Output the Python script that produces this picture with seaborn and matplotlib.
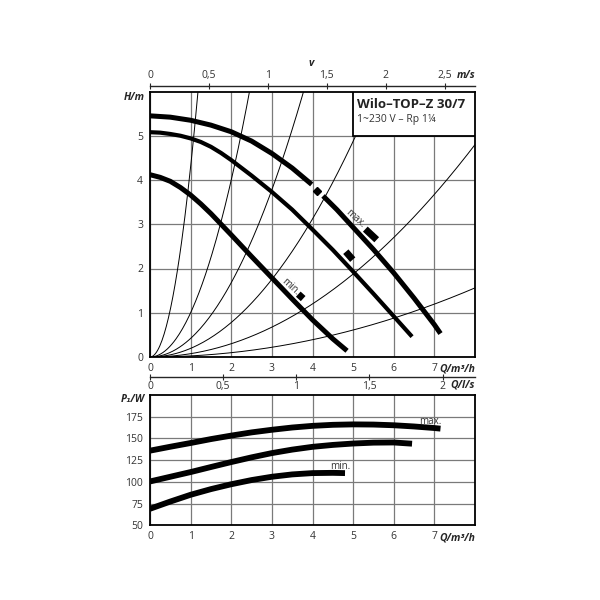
import numpy as np
import matplotlib
matplotlib.use('Agg')
import matplotlib.pyplot as plt
import seaborn as sns
from matplotlib.patches import Rectangle

# ---- values ----
q_ticks = [0, 1, 2, 3, 4, 5, 6, 7]
h_ticks = [0, 1, 2, 3, 4, 5]
p_ticks = [50, 75, 100, 125, 150, 175]
v_ticks = [0, 0.5, 1, 1.5, 2, 2.5]
v_labels = ['0', '0,5', '1', '1,5', '2', '2,5']
ls_ticks = [0, 0.5, 1, 1.5, 2]
ls_labels = ['0', '0,5', '1', '1,5', '2']

# pump curves H(Q), Q in m3/h, H in m
q_max_a = [0, 0.5, 1, 1.5, 2, 2.5, 3, 3.5, 3.98]
h_max_a = [5.45, 5.42, 5.35, 5.24, 5.09, 4.88, 4.6, 4.27, 3.9]
q_max_b = [4.26, 4.6, 5.0, 5.5, 6.0, 6.5, 7.0, 7.15]
h_max_b = [3.64, 3.33, 2.93, 2.43, 1.9, 1.33, 0.73, 0.53]
q_mid = [0, 0.25, 0.5, 0.75, 1, 1.25, 1.5, 1.75, 2, 2.5, 3, 3.5, 4, 4.5, 5, 5.5, 6, 6.45]
h_mid = [5.08, 5.07, 5.04, 5.0, 4.94, 4.86, 4.75, 4.61, 4.45, 4.1, 3.73, 3.33,
         2.88, 2.42, 1.93, 1.43, 0.92, 0.46]
q_min = [0, 0.25, 0.5, 0.75, 1, 1.25, 1.5, 1.75, 2, 2.5, 3, 3.5, 4, 4.5, 4.85]
h_min = [4.12, 4.06, 3.97, 3.83, 3.66, 3.46, 3.24, 3.0, 2.76, 2.27, 1.79, 1.31,
         0.84, 0.41, 0.14]

# system curves H = k * Q^2
sys_k = [4.3, 1.0, 0.42, 0.195, 0.075, 0.0244]

# label markers on the H curves
mark_max_q, mark_max_h = [5.3, 5.58], [2.89, 2.65]
mark_mid_q, mark_mid_h = [4.82, 4.99], [2.38, 2.2]
mark_min_q, mark_min_h = [3.65, 3.77], [1.42, 1.32]
dot_q, dot_h = [4.12], [3.75]

# power curves P1(Q), W
pq_max = [0, 0.5, 1, 1.5, 2, 2.5, 3, 3.5, 4, 4.5, 5, 5.5, 6, 6.5, 7, 7.15]
p_max = [136, 140.5, 144.8, 149.3, 153.3, 157, 160, 162.6, 164.5, 165.7, 166.2,
         166, 165.2, 163.8, 162, 161.3]
pq_mid = [0, 0.5, 1, 1.5, 2, 2.5, 3, 3.5, 4, 4.5, 5, 5.5, 6, 6.45]
p_mid = [100.6, 106, 111.4, 117.2, 122.9, 128.3, 133.2, 137.2, 140.4, 142.6,
         144.2, 145.2, 145.4, 144]
pq_min = [0, 0.5, 1, 1.5, 2, 2.5, 3, 3.5, 4, 4.5, 4.8]
p_min = [69.2, 77.5, 85.3, 91.8, 97.4, 102.2, 106, 108.7, 110.2, 110.5, 110.2]

q_per_v = 2.9     # m3/h per m/s
q_per_ls = 3.6    # m3/h per l/s

sns.set_style('white')
plt.rcParams['font.family'] = ['Open Sans', 'DejaVu Sans']

fig = plt.figure(figsize=(6, 6), dpi=100)
ax_h = fig.add_axes([0.25, 0.405, 0.5417, 0.4425])
ax_p = fig.add_axes([0.25, 0.1242, 0.5417, 0.2175])

tick_col = '#333333'
grid_col = '#7a7a7a'

for ax in (ax_h, ax_p):
    ax.set_xlim(0, 8)
    ax.set_xticks(q_ticks)
    ax.grid(True, color=grid_col, lw=0.9)
    ax.set_axisbelow(True)
    ax.tick_params(length=0, labelsize=7.5, labelcolor=tick_col)
    ax.tick_params(axis='x', pad=4)
    ax.tick_params(axis='y', pad=5)
    for s in ax.spines.values():
        s.set_color('black')
        s.set_linewidth(1.3)
    ax.annotate('Q/m³/h', xy=(1, 0), xycoords='axes fraction', xytext=(0, -5),
                textcoords='offset points', ha='right', va='top',
                fontsize=7.5, fontweight='bold', style='italic')

# ---- top panel: head ----
ax_h.set_ylim(0, 6)
ax_h.set_yticks(h_ticks)

q_line = np.linspace(0, 8, 300)
for k in sys_k:
    sns.lineplot(x=q_line, y=k * q_line ** 2, ax=ax_h, color='black', lw=0.7)

for qs, hs, w in [(q_max_a, h_max_a, 3.6), (q_max_b, h_max_b, 3.6),
                  (q_mid, h_mid, 3.0), (q_min, h_min, 3.6)]:
    sns.lineplot(x=qs, y=hs, ax=ax_h, color='black', lw=w,
                 solid_capstyle='butt', solid_joinstyle='round', estimator=None)

for qs, hs in [(mark_max_q, mark_max_h), (mark_mid_q, mark_mid_h), (mark_min_q, mark_min_h)]:
    ax_h.plot(qs, hs, color='black', lw=5, solid_capstyle='butt')
ax_h.plot(dot_q, dot_h, marker='D', ms=4, color='black', lw=0)

ax_h.text(5.06, 3.13, 'max.', rotation=-42, fontsize=7, color='#333333',
          ha='center', va='center')
ax_h.text(3.45, 1.59, 'min.', rotation=-42, fontsize=7, color='#333333',
          ha='center', va='center')

# title box
ax_h.add_patch(Rectangle((5, 5), 3, 1, facecolor='white', edgecolor='black',
                         lw=1.3, zorder=5))
ax_h.text(5.09, 5.63, 'Wilo–TOP–Z 30/7', fontsize=9.5, fontweight='bold',
          ha='left', va='baseline', zorder=6, color='#222222')
ax_h.text(5.09, 5.32, '1~230 V – Rp 1¼', fontsize=7.5, ha='left',
          va='baseline', zorder=6, color='#333333')

ax_h.annotate('H/m', xy=(0, 0.979), xycoords='axes fraction', xytext=(-4, 0),
              textcoords='offset points', ha='right', va='center',
              fontsize=7.5, fontweight='bold', style='italic')

# velocity axis on top
sec_v = ax_h.secondary_xaxis(1.022, functions=(lambda q: q / q_per_v,
                                               lambda v: v * q_per_v))
sec_v.set_xticks(v_ticks, labels=v_labels)
sec_v.tick_params(direction='inout', length=4, width=0.8, pad=1.5,
                  labelsize=7.5, labelcolor=tick_col)
sec_v.spines['top'].set_linewidth(1.0)
ax_h.annotate('m/s', xy=(1, 1.022), xycoords='axes fraction', xytext=(0, 3.5),
              textcoords='offset points', ha='right', va='bottom',
              fontsize=7.5, fontweight='bold', style='italic')
ax_h.annotate('v', xy=(0.495, 1.022), xycoords='axes fraction', xytext=(0, 12),
              textcoords='offset points', ha='center', va='bottom',
              fontsize=7.5, fontweight='bold', style='italic')

# ---- bottom panel: power ----
ax_p.set_ylim(50, 200)
ax_p.set_yticks(p_ticks)

for qs, ps in [(pq_max, p_max), (pq_mid, p_mid), (pq_min, p_min)]:
    sns.lineplot(x=qs, y=ps, ax=ax_p, color='black', lw=4.2,
                 solid_capstyle='butt', solid_joinstyle='round', estimator=None)

ax_p.text(6.9, 170, 'max.', fontsize=7, color='#333333', ha='center', va='center')
ax_p.text(4.68, 118, 'min.', fontsize=7, color='#333333', ha='center', va='center')

ax_p.annotate('P₁/W', xy=(0, 0.969), xycoords='axes fraction', xytext=(-4, 0),
              textcoords='offset points', ha='right', va='center',
              fontsize=7.5, fontweight='bold', style='italic')

# flow axis in l/s between the panels
sec_l = ax_p.secondary_xaxis(1.138, functions=(lambda q: q / q_per_ls,
                                               lambda l: l * q_per_ls))
sec_l.set_alignment('bottom')
sec_l.set_xticks(ls_ticks, labels=ls_labels)
sec_l.tick_params(direction='inout', length=4, width=0.8, pad=1,
                  labelsize=7.5, labelcolor=tick_col)
sec_l.spines['bottom'].set_linewidth(1.0)
ax_p.annotate('Q/l/s', xy=(1, 1.138), xycoords='axes fraction', xytext=(0, -2),
              textcoords='offset points', ha='right', va='top',
              fontsize=7.5, fontweight='bold', style='italic')

for ax in (ax_h, ax_p):
    ax.set_xlabel('')
    ax.set_ylabel('')

fig.savefig('out.png', dpi=100)
